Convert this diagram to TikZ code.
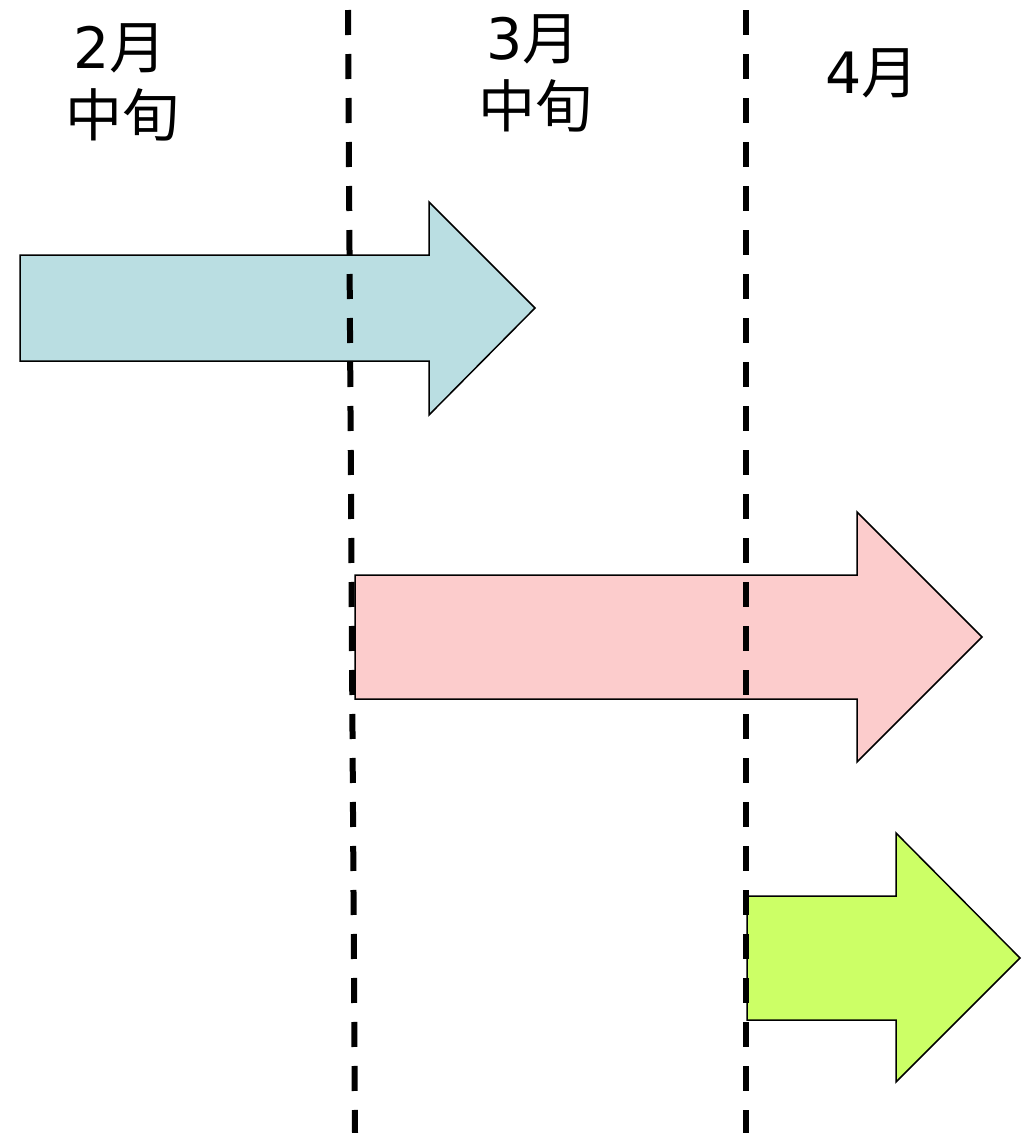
\documentclass[tikz,border=0pt]{standalone}
\usepackage{fontspec}
\setmainfont{DejaVu Sans}
\newfontfamily\cjk{Noto Sans CJK JP}
\definecolor{arrblue}{RGB}{186,222,226}
\definecolor{arrpink}{RGB}{252,204,204}
\definecolor{arrgreen}{RGB}{204,255,102}
\begin{document}
\begin{tikzpicture}[x=1pt,y=-1pt,
  lbl/.style={inner sep=0pt,anchor=base,font=\fontsize{57}{66}\selectfont},
  arrowshape/.style={draw=black,line width=1.5pt,line join=miter},
  divider/.style={line width=6pt,dash pattern=on 25pt off 19pt}]
\useasboundingbox (0,0) rectangle (1022,1133);
% arrows
\draw[arrowshape,fill=arrblue] (20,255) -- (429,255) -- (429,202) -- (535,308) -- (429,415) -- (429,361) -- (20,361) -- cycle;
\draw[arrowshape,fill=arrpink] (355,575) -- (857,575) -- (857,512) -- (982,637) -- (857,762) -- (857,699) -- (355,699) -- cycle;
\draw[arrowshape,fill=arrgreen] (747,896) -- (896,896) -- (896,833) -- (1020,958) -- (896,1082) -- (896,1020) -- (747,1020) -- cycle;
% dividers
\coordinate (d1a) at (348,10);
\coordinate (d1b) at (355,1133);
\coordinate (d2a) at (746,10);
\coordinate (d2b) at (746,1133);
\draw[divider] (d1a) -- (d1b);
\draw[divider] (d2a) -- (d2b);
% labels
\node[lbl] (l2a) at (120,68) {2{\cjk 月}};
\node[lbl] (l2b) at (122,136) {{\cjk 中旬}};
\node[lbl] (l3a) at (533,59) {3{\cjk 月}};
\node[lbl] (l3b) at (535,127) {{\cjk 中旬}};
\node[lbl] (l4a) at (872,93) {4{\cjk 月}};
\end{tikzpicture}
\end{document}
